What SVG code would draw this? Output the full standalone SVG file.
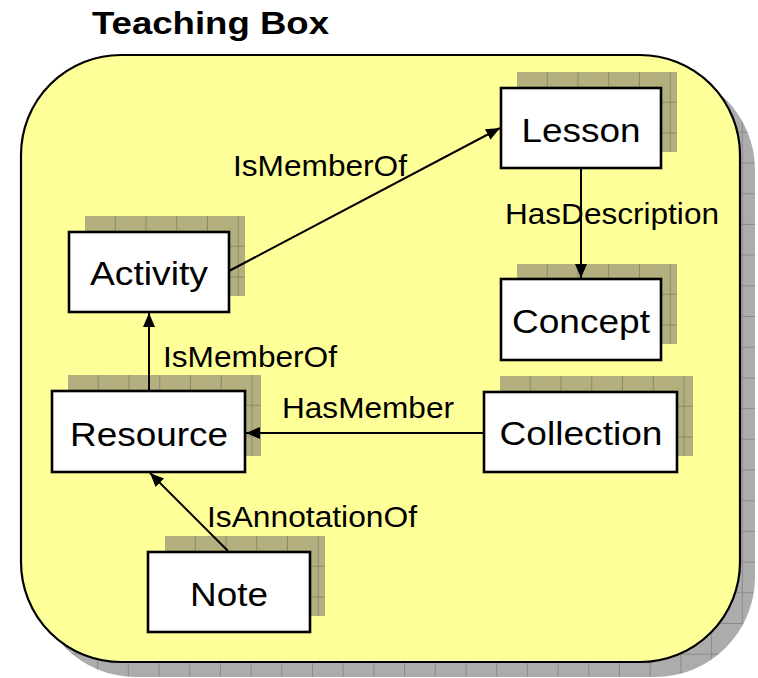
<svg xmlns="http://www.w3.org/2000/svg" width="758" height="678" viewBox="0 0 758 678">
<style>
.node{fill:#ffffff;stroke:#000;stroke-width:2.6}
.shadow{fill:url(#olive)}
.nt{font-family:"Liberation Sans",Arial,sans-serif;font-size:33px;fill:#000;text-anchor:middle}
.lt{font-family:"Liberation Sans",Arial,sans-serif;font-size:29px;fill:#000}
.edge{stroke:#000;stroke-width:2;fill:none;marker-end:url(#arr)}
</style>
<defs>
<pattern id="olive" width="30.75" height="30.75" patternUnits="userSpaceOnUse">
<rect width="30.75" height="30.75" fill="#b4af7e"/>
<path d="M30.3 0V30.75M0 30.3H30.75" stroke="#8a8872" stroke-width="1.2"/>
</pattern>
<pattern id="gray" x="6" y="10" width="30.7" height="30.7" patternUnits="userSpaceOnUse">
<rect width="30.7" height="30.7" fill="#acacac"/>
<path d="M30.3 0V30.7M0 30.3H30.7" stroke="#8a8a8a" stroke-width="1.2"/>
</pattern>
<marker id="arr" markerWidth="14" markerHeight="12" refX="14" refY="6" orient="auto" markerUnits="userSpaceOnUse">
<path d="M0,0 L14,6 L0,12 z" fill="#000"/>
</marker>
</defs>
<rect width="758" height="678" fill="#ffffff"/>
<text x="92" y="34" font-family="'Liberation Sans',Arial,sans-serif" font-size="31" font-weight="bold" textLength="237" lengthAdjust="spacingAndGlyphs">Teaching Box</text>
<g id="teaching-box">
<rect x="36" y="70" width="719" height="607" rx="100" ry="100" fill="url(#gray)"/>
<rect x="21" y="55" width="719" height="607" rx="100" ry="100" fill="#ffff99" stroke="#000" stroke-width="2.2"/>
</g>
<g id="lesson">
<rect class="shadow" transform="translate(517,72)" width="160" height="80"/>
<rect class="node" x="501" y="88" width="160" height="80"/>
<text class="nt" x="581" y="142" textLength="119" lengthAdjust="spacingAndGlyphs">Lesson</text>
</g>
<g id="activity">
<rect class="shadow" transform="translate(85,216)" width="160" height="80"/>
<rect class="node" x="69" y="232" width="160" height="80"/>
<text class="nt" x="149" y="285" textLength="118" lengthAdjust="spacingAndGlyphs">Activity</text>
</g>
<g id="concept">
<rect class="shadow" transform="translate(517,264)" width="160" height="80"/>
<rect class="node" x="501" y="279" width="160" height="81"/>
<text class="nt" x="581" y="333" textLength="138" lengthAdjust="spacingAndGlyphs">Concept</text>
</g>
<g id="collection">
<rect class="shadow" transform="translate(500,376)" width="193" height="80"/>
<rect class="node" x="484" y="392" width="193" height="80"/>
<text class="nt" x="581" y="445" textLength="163" lengthAdjust="spacingAndGlyphs">Collection</text>
</g>
<g id="resource">
<rect class="shadow" transform="translate(68,375)" width="193" height="81"/>
<rect class="node" x="52" y="391" width="193" height="81"/>
<text class="nt" x="149" y="446" textLength="158" lengthAdjust="spacingAndGlyphs">Resource</text>
</g>
<g id="note">
<rect class="shadow" transform="translate(165,536)" width="160" height="80"/>
<rect class="node" x="148" y="552" width="162" height="80"/>
<text class="nt" x="229" y="606" textLength="78" lengthAdjust="spacingAndGlyphs">Note</text>
</g>
<g id="connectors">
<path class="edge" d="M229,271 L500,128"/>
<path class="edge" d="M581,168 L581,278"/>
<path class="edge" d="M149,391 L149,313"/>
<path class="edge" d="M484,433 L246,433"/>
<path class="edge" d="M228,551 L150,473"/>
<text class="lt" x="233" y="176" textLength="174" lengthAdjust="spacingAndGlyphs">IsMemberOf</text>
<text class="lt" x="505" y="224" textLength="214" lengthAdjust="spacingAndGlyphs">HasDescription</text>
<text class="lt" x="163" y="367" textLength="174" lengthAdjust="spacingAndGlyphs">IsMemberOf</text>
<text class="lt" x="282" y="418" textLength="172" lengthAdjust="spacingAndGlyphs">HasMember</text>
<text class="lt" x="207" y="527" textLength="210" lengthAdjust="spacingAndGlyphs">IsAnnotationOf</text>
</g>
</svg>
